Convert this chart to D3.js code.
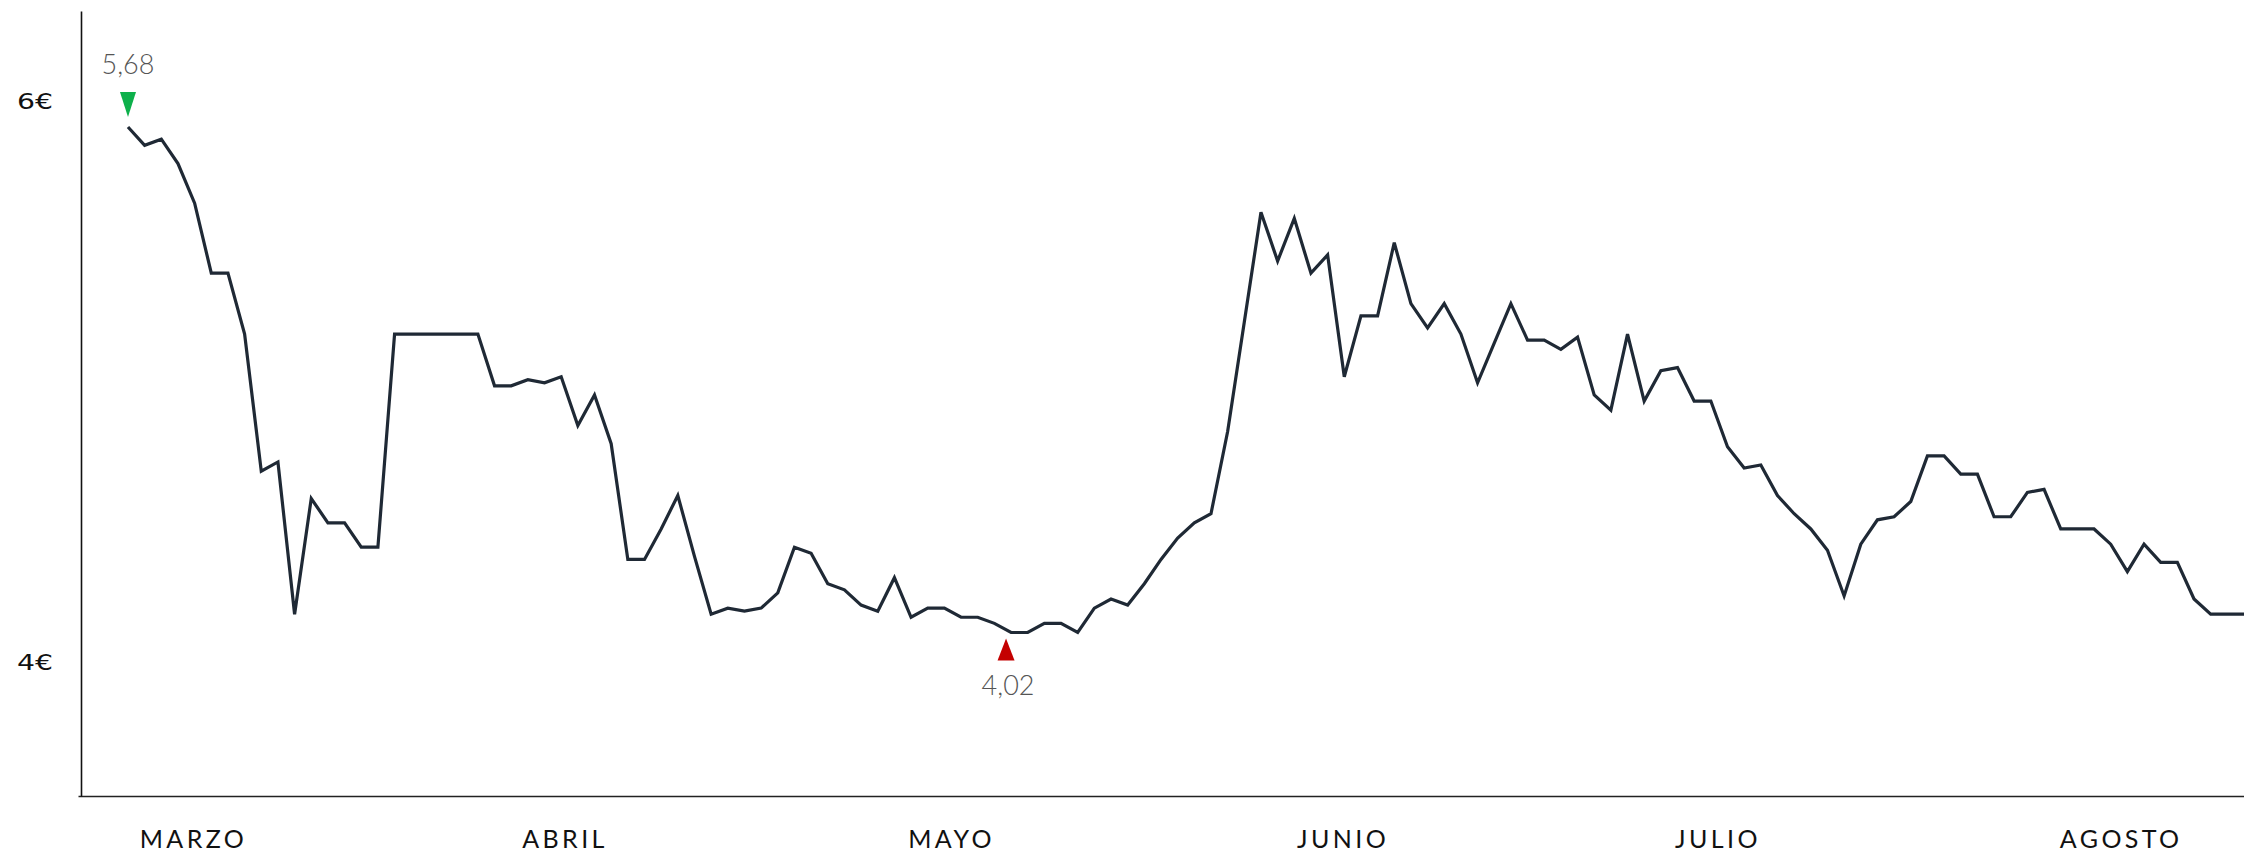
<!DOCTYPE html>
<html>
<head>
<meta charset="utf-8">
<script src="https://cdn.jsdelivr.net/npm/d3@7"></script>
<style>
  html, body { margin: 0; padding: 0; background: #ffffff; }
  svg { display: block; }
</style>
</head>
<body>
<svg id="chart" width="2244" height="854"></svg>
<script>
// ---- Data ----
const prices = [
  5.68, 5.62, 5.64, 5.56, 5.43, 5.20, 5.20, 5.00, 4.55, 4.58,
  4.08, 4.46, 4.38, 4.38, 4.30, 4.30, 5.00, 5.00, 5.00, 5.00,
  5.00, 5.00, 4.83, 4.83, 4.85, 4.84, 4.86, 4.70, 4.80, 4.64,
  4.26, 4.26, 4.36, 4.47, 4.27, 4.08, 4.10, 4.09, 4.10, 4.15,
  4.30, 4.28, 4.18, 4.16, 4.11, 4.09, 4.20, 4.07, 4.10, 4.10,
  4.07, 4.07, 4.05, 4.02, 4.02, 4.05, 4.05, 4.02, 4.10, 4.13,
  4.11, 4.18, 4.26, 4.33, 4.38, 4.41, 4.68, 5.04, 5.40, 5.24,
  5.38, 5.20, 5.26, 4.86, 5.06, 5.06, 5.30, 5.10, 5.02, 5.10,
  5.00, 4.84, 4.97, 5.10, 4.98, 4.98, 4.95, 4.99, 4.80, 4.75,
  5.00, 4.78, 4.88, 4.89, 4.78, 4.78, 4.63, 4.56, 4.57, 4.47,
  4.41, 4.36, 4.29, 4.14, 4.31, 4.39, 4.40, 4.45, 4.60, 4.60,
  4.54, 4.54, 4.40, 4.40, 4.48, 4.49, 4.36, 4.36, 4.36, 4.31,
  4.22, 4.31, 4.25, 4.25, 4.13, 4.08, 4.08, 4.08
];
const monthLabels = ["MARZO", "ABRIL", "MAYO", "JUNIO", "JULIO", "AGOSTO"];
const monthTickIndex = [3.9, 26.2, 49.4, 72.9, 95.4, 119.6];
const yTickValues = [6, 4];
const yTickLabels = ["6€", "4€"];
const xDomain = [-3, 127];
const yDomain = [3.483, 6.061];
const yAxisDomain = [3.525, 6.325];

// ---- Layout ----
const M = { left: 78, right: 2244, top: 11, bottom: 796, yAxisX: 81 };

const svg = d3.select("#chart");

const x = d3.scaleLinear().domain(xDomain).range([M.left, M.right]);
const y = d3.scaleLinear().domain(yDomain).range([M.bottom, M.top]);
const yAxisScale = d3.scaleLinear().domain(yAxisDomain).range([M.bottom, M.top]);

const fmt = d3.formatLocale({decimal: ",", thousands: ".", grouping: [3], currency: ["", "€"]}).format(".2f");

// ---- X axis ----
const xAxis = svg.append("g")
  .attr("transform", `translate(0,${M.bottom})`)
  .call(d3.axisBottom(x)
    .tickValues(monthTickIndex)
    .tickFormat((d, i) => monthLabels[i])
    .tickSize(0)
    .tickSizeOuter(0)
    .tickPadding(34));
xAxis.select(".domain").attr("stroke", "#222").attr("stroke-width", 1.6);
xAxis.selectAll("text")
  .attr("font-family", "Lato, 'Open Sans', sans-serif")
  .attr("font-size", 25)
  .attr("letter-spacing", "3.4px")
  .attr("fill", "#111");

// ---- Y axis ----
const yAxis = svg.append("g")
  .attr("transform", `translate(${M.yAxisX},0)`)
  .call(d3.axisLeft(yAxisScale)
    .tickValues(yTickValues)
    .tickFormat((d, i) => yTickLabels[i])
    .tickSize(0)
    .tickSizeOuter(0)
    .tickPadding(28));
yAxis.select(".domain").attr("stroke", "#111").attr("stroke-width", 1.6);
yAxis.selectAll("text")
  .attr("font-family", "'DejaVu Sans', sans-serif")
  .attr("font-size", 21)
  .attr("textLength", 36)
  .attr("lengthAdjust", "spacingAndGlyphs")
  .attr("fill", "#111");

// ---- Line ----
const line = d3.line()
  .x((d, i) => x(i))
  .y(d => y(d));

svg.append("path")
  .datum(prices)
  .attr("fill", "none")
  .attr("stroke", "#1f2935")
  .attr("stroke-width", 3.2)
  .attr("stroke-linejoin", "miter")
  .attr("d", line);

// ---- Max / Min annotations ----
const maxI = d3.maxIndex(prices);
const minI = d3.minIndex(prices);

function triangle(cx, tipY, w, h, up) {
  const p = d3.path();
  if (up) {
    p.moveTo(cx, tipY); p.lineTo(cx + w / 2, tipY + h); p.lineTo(cx - w / 2, tipY + h);
  } else {
    p.moveTo(cx, tipY); p.lineTo(cx + w / 2, tipY - h); p.lineTo(cx - w / 2, tipY - h);
  }
  p.closePath();
  return p.toString();
}

// max
const mx = x(maxI), my = y(prices[maxI]);
svg.append("path")
  .attr("d", triangle(mx, my - 10, 16, 25, false))
  .attr("fill", "#0db04b");
svg.append("text")
  .attr("x", mx)
  .attr("y", my - 53)
  .attr("text-anchor", "middle")
  .attr("font-family", "Lato, 'Open Sans', sans-serif")
  .attr("font-weight", 300)
  .attr("font-size", 27)
  .attr("fill", "#555")
  .text(fmt(prices[maxI]));

// min
const nx = x(minI) - 5, ny = y(prices[minI]);
svg.append("path")
  .attr("d", triangle(nx, ny + 6, 17, 22, true))
  .attr("fill", "#c40000");
svg.append("text")
  .attr("x", nx + 2)
  .attr("y", ny + 63)
  .attr("text-anchor", "middle")
  .attr("font-family", "Lato, 'Open Sans', sans-serif")
  .attr("font-weight", 300)
  .attr("font-size", 27)
  .attr("fill", "#555")
  .text(fmt(prices[minI]));
</script>
</body>
</html>
